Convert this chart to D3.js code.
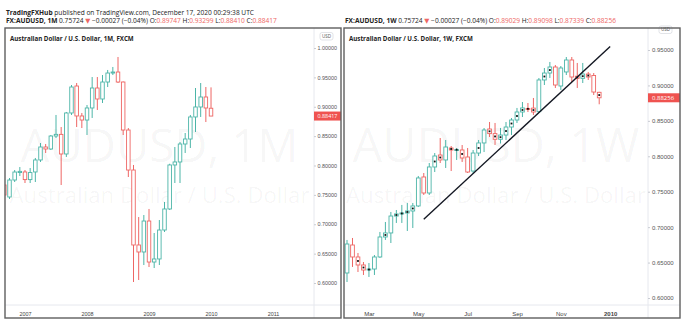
<!DOCTYPE html>
<html>
<head>
<meta charset="utf-8">
<script src="https://cdn.jsdelivr.net/npm/d3@7"></script>
<style>
  body { margin: 0; background: #fff; }
  svg { display: block; font-family: "Open Sans", "DejaVu Sans", sans-serif; }
</style>
</head>
<body>
<svg id="chart" width="686" height="322"></svg>
<script>
// ---------- Monthly AUD/USD, Sep 2006 – Jan 2010 ----------
const monthStart = "2006-09-01";
const monthlyOpen  = [0.7668,0.7464,0.7753,0.7880,0.7890,0.7760,0.7890,0.8094,0.8315,0.8281,0.8502,0.8530,0.8196,0.8894,0.9353,0.8843,0.8774,0.8979,0.9319,0.9132,0.9421,0.9574,0.9591,0.9421,0.8604,0.7923,0.6647,0.6528,0.7055,0.6357,0.6409,0.6902,0.7260,0.8009,0.8060,0.8366,0.8451,0.8826,0.8996,0.9166,0.89747];
const monthlyHigh  = [0.7753,0.7787,0.7923,0.7974,0.7923,0.7957,0.8128,0.8383,0.8366,0.8519,0.8860,0.8655,0.8911,0.9370,0.9404,0.8894,0.9030,0.9506,0.9506,0.9540,0.9626,0.9677,0.9847,0.9430,0.8638,0.8009,0.7123,0.7157,0.7260,0.6851,0.7072,0.7379,0.8030,0.8315,0.8400,0.8553,0.8860,0.9319,0.9404,0.9336,0.93299];
const monthlyLow   = [0.7413,0.7430,0.7719,0.7821,0.7702,0.7702,0.7719,0.8060,0.8213,0.8264,0.8468,0.7668,0.8145,0.8860,0.8655,0.8638,0.8519,0.8809,0.8945,0.9064,0.9336,0.9540,0.9404,0.8519,0.7804,0.6017,0.6051,0.6306,0.6272,0.6255,0.6306,0.6868,0.7243,0.7702,0.7702,0.8213,0.8298,0.8570,0.8826,0.8740,0.88410];
const monthlyClose = [0.7498,0.7753,0.7889,0.7900,0.7760,0.7880,0.8094,0.8315,0.8281,0.8502,0.8530,0.8196,0.8894,0.9336,0.8843,0.8774,0.8979,0.9319,0.9132,0.9421,0.9574,0.9591,0.9421,0.8604,0.7923,0.6647,0.6528,0.7055,0.6357,0.6409,0.6902,0.7260,0.8009,0.8060,0.8366,0.8451,0.8826,0.8996,0.9166,0.8979,0.88417];
const monthTickDates  = ["2007-01-01","2008-01-01","2009-01-01","2010-01-01","2011-01-01"];
const monthTickLabels = ["2007","2008","2009","2010","2011"];
const monthlyPriceTicks = [0.60,0.65,0.70,0.75,0.80,0.85,0.90,0.95,1.00];

// ---------- Weekly AUD/USD, week of 2 Feb 2009 – week of 21 Dec 2009 ----------
const weekStart = "2009-02-02";
const weeklyOpen  = [0.6353,0.6748,0.6579,0.6466,0.6395,0.6409,0.6579,0.6861,0.6918,0.7157,0.7186,0.7200,0.7228,0.7299,0.7708,0.7482,0.7849,0.8018,0.7948,0.8117,0.8089,0.8089,0.7990,0.7792,0.8046,0.8188,0.8385,0.8320,0.8240,0.8300,0.8413,0.8512,0.8625,0.8675,0.8680,0.8630,0.9077,0.9175,0.9260,0.8992,0.9190,0.9359,0.9130,0.9100,0.9161,0.9140,0.89029];
const weeklyHigh  = [0.6819,0.6847,0.6635,0.6508,0.6494,0.6607,0.6932,0.7073,0.7214,0.7242,0.7313,0.7341,0.7341,0.7722,0.7764,0.7905,0.8046,0.8258,0.8230,0.8145,0.8117,0.8159,0.8117,0.8089,0.8230,0.8399,0.8484,0.8470,0.8400,0.8484,0.8540,0.8682,0.8766,0.8752,0.8823,0.9105,0.9246,0.9331,0.9288,0.9274,0.9401,0.9401,0.9317,0.9317,0.9190,0.9175,0.89098];
const weeklyLow   = [0.6226,0.6438,0.6367,0.6325,0.6297,0.6325,0.6565,0.6819,0.6776,0.7059,0.7059,0.6946,0.6988,0.7284,0.7454,0.7454,0.7778,0.7905,0.7835,0.7792,0.7948,0.7919,0.7764,0.7750,0.8004,0.8060,0.8272,0.8160,0.8180,0.8230,0.8300,0.8470,0.8554,0.8625,0.8583,0.8611,0.9006,0.9105,0.8964,0.8936,0.9147,0.9048,0.8964,0.9034,0.9077,0.8865,0.87339];
const weeklyClose = [0.6762,0.6579,0.6466,0.6395,0.6409,0.6579,0.6861,0.6918,0.7157,0.7186,0.7200,0.7228,0.7299,0.7694,0.7482,0.7849,0.8004,0.7948,0.8131,0.8089,0.8095,0.7976,0.7778,0.8046,0.8188,0.8371,0.8320,0.8240,0.8300,0.8413,0.8512,0.8625,0.8682,0.8665,0.8625,0.9077,0.9175,0.9260,0.9006,0.9246,0.9359,0.9119,0.9100,0.9161,0.9119,0.8907,0.88256];
const weekTickDates  = ["2009-03-02","2009-05-04","2009-07-06","2009-09-07","2009-11-02","2010-01-04"];
const weekTickLabels = ["Mar","May","Jul","Sep","Nov","2010"];
const weeklyPriceTicks = [0.60,0.65,0.70,0.75,0.80,0.85,0.90,0.95];
// hand-drawn trend line: [week, price] end points
const trendDates  = ["2009-05-11","2010-01-04"];
const trendPrices = [0.7111,0.9549];

// ---------- header quotes ----------
const headerLine1 = ["TradingFXHub", " published on TradingView.com, December 17, 2020 00:29:38 UTC"];
const quoteMonthly = {sym:"FX:AUDUSD, 1M", last:"0.75724", chg:"\u22120.00027 (\u22120.04%)", o:"0.89747", h:"0.93299", l:"0.88410", c:"0.88417"};
const quoteWeekly  = {sym:"FX:AUDUSD, 1W", last:"0.75724", chg:"\u22120.00027 (\u22120.04%)", o:"0.89029", h:"0.89098", l:"0.87339", c:"0.88256"};

const UP = "#4cb5a8", DOWN = "#ee6664", PRICE_BG = "#ef5350";
const svg = d3.select("#chart");
const fmt = d3.format(".5f");
const parse = d3.utcParse("%Y-%m-%d");

// ---------- header ----------
const h1 = svg.append("text").attr("x", 6).attr("y", 14.5).attr("font-size", 6.6).attr("fill", "#222");
h1.append("tspan").attr("font-weight", "bold").text(headerLine1[0]);
h1.append("tspan").text(headerLine1[1]);

function quoteLine(x, q) {
  const t = svg.append("text").attr("x", x).attr("y", 22.6).attr("font-size", 6.6).attr("fill", "#222");
  t.append("tspan").attr("font-weight", "bold").text(q.sym);
  t.append("tspan").text(" " + q.last + " ");
  t.append("tspan").attr("fill", DOWN).text("\u25BC");
  t.append("tspan").text(" " + q.chg + " O:");
  t.append("tspan").attr("fill", DOWN).text(q.o);
  t.append("tspan").text(" H:");
  t.append("tspan").attr("fill", DOWN).text(q.h);
  t.append("tspan").text(" L:");
  t.append("tspan").attr("fill", DOWN).text(q.l);
  t.append("tspan").text(" C:");
  t.append("tspan").attr("fill", DOWN).text(q.c);
}
quoteLine(6, quoteMonthly);
quoteLine(345, quoteWeekly);

function fitWidth(sel, w) {
  const cur = sel.node().getComputedTextLength();
  sel.attr("font-size", parseFloat(sel.attr("font-size")) * w / cur);
}

// ---------- one chart panel ----------
function panel(cfg) {
  const g = svg.append("g");
  const clipId = "clip" + cfg.id;
  g.append("clipPath").attr("id", clipId).append("rect")
    .attr("x", cfg.plotX0).attr("y", cfg.top).attr("width", cfg.plotX1 - cfg.plotX0).attr("height", cfg.plotY1 - cfg.top);

  // watermark
  const wm = g.append("g").attr("clip-path", `url(#${clipId})`).attr("fill", "#000").attr("fill-opacity", 0.045).attr("text-anchor", "middle");
  const cx = (cfg.plotX0 + cfg.plotX1) / 2;
  const w1 = wm.append("text").attr("x", cx).attr("y", 162).attr("font-size", 50).text(cfg.wm1);
  fitWidth(w1, cfg.wm1W);
  const w2 = wm.append("text").attr("x", cx).attr("y", 203).attr("font-size", 20).text("Australian Dollar / U.S. Dollar");
  fitWidth(w2, 300);

  // separators
  g.append("line").attr("x1", cfg.plotX1).attr("x2", cfg.plotX1).attr("y1", cfg.top).attr("y2", cfg.bottom).attr("stroke", "#e6e8ee");
  g.append("line").attr("x1", cfg.left).attr("x2", cfg.right).attr("y1", cfg.plotY1).attr("y2", cfg.plotY1).attr("stroke", "#e6e8ee");

  const x = cfg.x, y = cfg.y;
  const step = Math.abs(x(1) - x(0));
  const bw = step * 0.68;

  // candles
  const cg = g.append("g").attr("clip-path", `url(#${clipId})`);
  const rows = cfg.open.map((o, i) => ({i, o, h: cfg.high[i], l: cfg.low[i], c: cfg.close[i]}));
  const cand = cg.selectAll("g.c").data(rows).join("g").attr("class", "c");
  cand.append("line")
    .attr("x1", d => x(d.i)).attr("x2", d => x(d.i))
    .attr("y1", d => y(d.h)).attr("y2", d => y(d.l))
    .attr("stroke", d => d.c >= d.o ? UP : DOWN).attr("stroke-width", 1);
  cand.append("rect")
    .attr("x", d => x(d.i) - bw / 2).attr("width", bw)
    .attr("y", d => y(Math.max(d.o, d.c)))
    .attr("height", d => Math.max(1, Math.abs(y(d.o) - y(d.c))))
    .attr("fill", "#fff")
    .attr("stroke", d => d.c >= d.o ? UP : DOWN).attr("stroke-width", 0.9);
  if (cfg.dots) {
    cand.filter(d => Math.abs(d.c - d.o) < 0.016).append("rect")
      .attr("x", d => x(d.i) - 0.9).attr("width", 1.8)
      .attr("y", d => y((d.o + d.c) / 2) - 0.9).attr("height", 1.8)
      .attr("fill", "#111");
  }

  // trend line
  if (cfg.trend) {
    cg.append("line")
      .attr("x1", x(cfg.trend[0][0])).attr("y1", y(cfg.trend[0][1]))
      .attr("x2", x(cfg.trend[1][0])).attr("y2", y(cfg.trend[1][1]))
      .attr("stroke", "#131722").attr("stroke-width", 1.4);
  }

  // price axis
  const ya = g.append("g").attr("transform", `translate(${cfg.plotX1},0)`)
    .call(d3.axisRight(y).tickValues(cfg.priceTicks).tickFormat(fmt).tickSize(2).tickPadding(cfg.tickPad));
  ya.select(".domain").remove();
  ya.selectAll("line").attr("stroke", "#c9ccd3");
  ya.selectAll("text").attr("font-size", cfg.axisFont).attr("fill", "#555").attr("font-family", null);

  // time axis
  const xa = g.append("g").attr("transform", `translate(0,${cfg.plotY1})`)
    .call(d3.axisBottom(x).tickValues(cfg.timeTicks).tickFormat((d, i) => cfg.timeLabels[i]).tickSize(0).tickPadding(cfg.timePad));
  xa.select(".domain").remove();
  xa.selectAll("text").attr("font-size", cfg.axisFont).attr("fill", "#444").attr("font-family", null)
    .attr("font-weight", (d, i) => cfg.boldYear && /^\d{4}$/.test(cfg.timeLabels[i]) ? "bold" : null);

  // last price label
  const last = cfg.close[cfg.close.length - 1];
  const ly = y(last);
  g.append("rect").attr("x", cfg.plotX1).attr("y", ly - 4.5).attr("width", cfg.right - cfg.plotX1).attr("height", 9).attr("fill", PRICE_BG);
  g.append("text").attr("x", cfg.plotX1 + cfg.tickPad + 2).attr("y", ly).attr("dy", "0.35em")
    .attr("font-size", cfg.axisFont).attr("fill", "#fff").text(fmt(last));

  // currency badge
  const b = g.append("g").attr("clip-path", null);
  b.append("rect").attr("x", cfg.usd[0] - 6.5).attr("y", cfg.usd[1] - 4).attr("width", 13).attr("height", 7.5).attr("rx", 2)
    .attr("fill", "#fff").attr("stroke", "#cfd2d8").attr("stroke-width", 0.6);
  b.append("text").attr("x", cfg.usd[0]).attr("y", cfg.usd[1]).attr("dy", "0.3em").attr("text-anchor", "middle")
    .attr("font-size", 4.6).attr("fill", "#555").text("USD");

  // chart title
  g.append("text").attr("x", cfg.plotX0 + 5).attr("y", 40.5).attr("font-size", 6.2).attr("font-weight", "bold").attr("fill", "#222").text(cfg.title);

  // frame
  g.append("rect").attr("x", cfg.left).attr("y", cfg.top).attr("width", cfg.right - cfg.left).attr("height", cfg.bottom - cfg.top)
    .attr("fill", "none").attr("stroke", "#5f5f5f").attr("stroke-width", 1.4);
}

// ---------- monthly panel ----------
const m0 = parse(monthStart);
const monthIdx = s => { const d = parse(s); return (d.getUTCFullYear() - m0.getUTCFullYear()) * 12 + d.getUTCMonth() - m0.getUTCMonth(); };
panel({
  id: "M", left: 5, right: 341, top: 28, bottom: 318, plotX0: 5, plotX1: 314, plotY1: 305,
  x: d3.scaleLinear().domain([0.13, 59.93]).range([5, 314]),
  y: d3.scaleLinear().domain([0.6, 1.0]).range([283, 48]),
  open: monthlyOpen, high: monthlyHigh, low: monthlyLow, close: monthlyClose,
  priceTicks: monthlyPriceTicks, tickPad: 1.5, axisFont: 5.4, timePad: 7.5,
  timeTicks: monthTickDates.map(monthIdx), timeLabels: monthTickLabels,
  wm1: "AUDUSD, 1M", wm1W: 278, usd: [326.5, 36.5],
  title: "Australian Dollar / U.S. Dollar, 1M, FXCM"
});

// ---------- weekly panel ----------
const w0 = parse(weekStart);
const weekIdx = s => Math.round((parse(s) - w0) / (7 * 864e5));
panel({
  id: "W", left: 344, right: 680, top: 28, bottom: 318, plotX0: 344, plotX1: 648, plotY1: 305,
  x: d3.scaleLinear().domain([-0.55, 54.9]).range([344, 648]),
  y: d3.scaleLinear().domain([0.6, 0.95]).range([298, 50]),
  open: weeklyOpen, high: weeklyHigh, low: weeklyLow, close: weeklyClose, dots: true,
  trend: trendDates.map((d, i) => [weekIdx(d), trendPrices[i]]),
  priceTicks: weeklyPriceTicks, tickPad: 2, axisFont: 6, timePad: 6.5, boldYear: true,
  timeTicks: weekTickDates.map(weekIdx), timeLabels: weekTickLabels,
  wm1: "AUDUSD, 1W", wm1W: 287, usd: [665.5, 30],
  title: "Australian Dollar / U.S. Dollar, 1W, FXCM"
});
</script>
</body>
</html>
